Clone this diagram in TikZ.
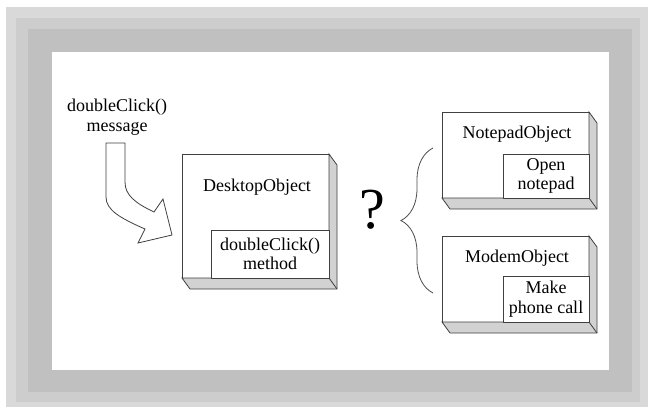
\documentclass[tikz,border=0pt]{standalone}
\usepackage{fontspec}
\setmainfont{Liberation Serif}
\usetikzlibrary{calc,decorations.pathreplacing}
\definecolor{frameA}{HTML}{D9D9D9}
\definecolor{frameB}{HTML}{CDCDCD}
\definecolor{frameC}{HTML}{C0C0C0}
\definecolor{facegray}{HTML}{D2D2D2}
\tikzset{%
  objbox/.style    = {shape=rectangle, draw=black!75, fill=white,%
                      line width=0.8pt, inner sep=0pt, outer sep=0pt},%
  methodbox/.style = {objbox, align=center, anchor=south east},%
  face/.style      = {draw=black!75, fill=facegray, line width=0.8pt},%
  msgarrow/.style  = {draw=black!75, fill=white, line width=0.8pt},%
  brace/.style     = {draw=black!70, line width=0.8pt,%
                      decorate, decoration={brace, amplitude=32pt}}%
}
\begin{document}
\begin{tikzpicture}[x=1pt,y=-1pt,
	every node/.style = {font=\fontsize{18}{19.5}\selectfont, text=black}]
		\useasboundingbox (0,0) rectangle (648,407);
		\fill[frameA] (6,7) rectangle (648,407);
		\fill[frameB] (16,18) rectangle (640,402);
		\fill[frameC] (28,29) rectangle (632,392);
		\fill[white] (52,52) rectangle (609,370);
		\node [align=center] (msg) at (117,117) {doubleClick()\\message};
		\draw[msgarrow] (106,143) -- (125,143) -- (125,182)
			.. controls (125,195) and (135,203) .. (154,212) -- (163,199)
			-- (172,235) -- (138,243) -- (145,229)
			.. controls (120,218) and (106,210) .. (106,197) -- cycle;
		\node [objbox, minimum width=147pt, minimum height=124pt] (desk) at (255.5,216) {};
		\node [objbox, minimum width=147pt, minimum height=86pt] (note) at (515.5,155) {};
		\node [objbox, minimum width=147pt, minimum height=86pt] (modem) at (515.5,279) {};
		\foreach \b in {desk,note,modem}{
			\filldraw[face] (\b.north east) -- ++(8,11) |- ($(\b.south west)+(8,11)$)
				-- (\b.south west) -- (\b.south east) -- cycle;
			\draw[face] (\b.south east) -- ++(8,11);
		}
		\node at (257,187) (deskname) {DesktopObject};
		\node [methodbox, minimum width=118pt, minimum height=48pt] (deskmethod)
			at (desk.south east) {doubleClick()\\method};
		\node at (517,134) (notename) {NotepadObject};
		\node [methodbox, minimum width=86pt, minimum height=44pt] (notemethod)
			at (note.south east) {Open\\notepad};
		\node at (517,258) (modemname) {ModemObject};
		\node [methodbox, minimum width=86pt, minimum height=46pt] (modemmethod)
			at (modem.south east) {Make\\phone call};
		\node [font=\fontsize{58}{58}\selectfont] (ask) at (372,210) {?};
		\draw[brace] (433,293) -- (433,148);
	\end{tikzpicture}
\end{document}
